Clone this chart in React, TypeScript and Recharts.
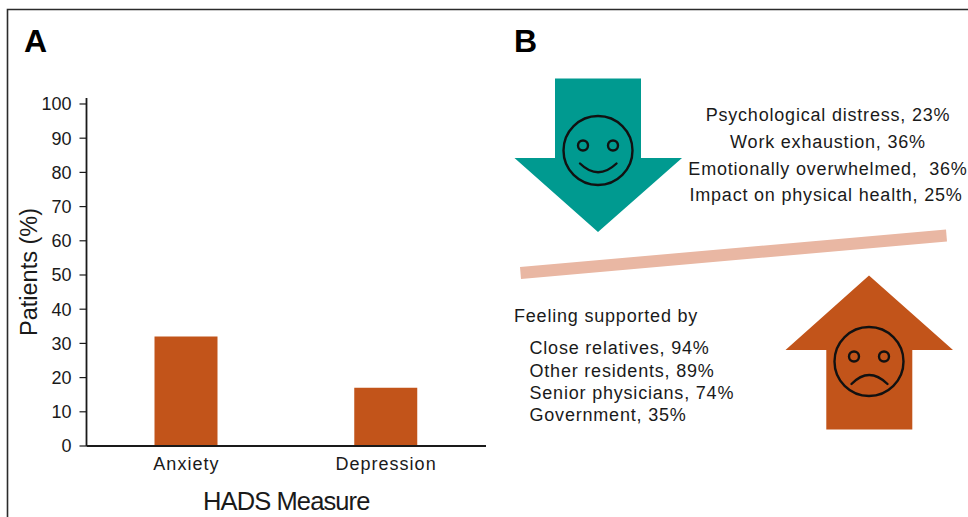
import {BarChart, Bar, XAxis, YAxis, Label} from "recharts";

const measures = ["Anxiety", "Depression"];
const patientPct = [32, 17];
const yTicks = [0, 10, 20, 30, 40, 50, 60, 70, 80, 90, 100];

const burdens = ["Psychological distress, 23%", "Work exhaustion, 36%", "Emotionally overwhelmed,  36%", "Impact on physical health, 25%"];
const supportTitle = "Feeling supported by";
const supports = ["Close relatives, 94%", "Other residents, 89%", "Senior physicians, 74%", "Government, 35%"];

const rows = measures.map((name, i) => ({name, value: patientPct[i]}));

const FONT = "'Liberation Sans', Arial, sans-serif";
const INK = "#1a1a1a";
const BAR = "#c2541a";
const TEAL = "#009a90";
const BEAM = "#e9b7a3";

const burdenPos = [
  {x: 828, y: 121},
  {x: 828, y: 148},
  {x: 828, y: 175},
  {x: 826, y: 201},
];
const supportY = [354, 377, 399, 421];

function Face({cx, cy, mouth}: {cx: number; cy: number; mouth: string}) {
  return (
    <g fill="none" stroke="#111" strokeWidth={2.4}>
      <circle cx={cx} cy={cy} r={34.5} />
      <circle cx={cx - 15} cy={cy - 5} r={5} />
      <circle cx={cx + 15} cy={cy - 5} r={5} />
      <path d={mouth} strokeLinecap="round" />
    </g>
  );
}

function PanelB() {
  const text = {fontFamily: FONT, fontSize: 18, fill: INK, letterSpacing: 0.8, style: {whiteSpace: "pre"}} as const;
  return (
    <svg width={968} height={517} style={{position: "absolute", left: 0, top: 0}}>
      <path d="M7.5 517V9.5H968" fill="none" stroke="#2b2b2b" strokeWidth={1.6} />
      <text x={24} y={52} fontFamily={FONT} fontSize={32} fontWeight={700} fill="#000">A</text>
      <text x={514} y={52} fontFamily={FONT} fontSize={32} fontWeight={700} fill="#000">B</text>

      <polygon points="555,78.5 641,78.5 641,158 682,158 598,232 514.5,158 555,158" fill={TEAL} />
      <Face cx={598} cy={150.5} mouth="M580 163.5Q598 181 616.5 163.5" />

      <polygon points="520,267 946,229.5 947,241.5 521,279" fill={BEAM} />

      <polygon points="869,275.5 953,350 912.3,350 912.3,429.5 826.3,429.5 826.3,350 785.5,350" fill={BAR} />
      <Face cx={869} cy={361.5} mouth="M851.5 384Q869 366 887.5 384" />

      {burdens.map((t, i) => (
        <text key={t} x={burdenPos[i].x} y={burdenPos[i].y} textAnchor="middle" {...text}>{t}</text>
      ))}
      <text x={514} y={322} {...text}>{supportTitle}</text>
      {supports.map((t, i) => (
        <text key={t} x={529.5} y={supportY[i]} {...text}>{t}</text>
      ))}
    </svg>
  );
}

export default function App() {
  return (
    <div style={{position: "absolute", left: 0, top: 0, width: 968, height: 517, overflow: "hidden", background: "#fff"}}>
      <PanelB />
      <div style={{position: "absolute", left: 0, top: 0}}>
        <BarChart width={968} height={517} data={rows} margin={{top: 98, left: 26.5, right: 482, bottom: 41}} barSize={63}>
          <XAxis
            dataKey="name"
            height={30}
            tickLine={false}
            tickMargin={5}
            axisLine={{stroke: INK, strokeWidth: 1.8}}
            tick={{fontFamily: FONT, fontSize: 18, fill: INK, letterSpacing: 1}}
          >
            <Label value="HADS Measure" position="insideBottom" offset={-34} style={{fontFamily: FONT, fontSize: 25.5, fill: INK, letterSpacing: -0.9}} />
          </XAxis>
          <YAxis
            width={60}
            domain={[0, 101.75]}
            ticks={yTicks}
            interval={0}
            tickSize={7}
            tickMargin={8}
            axisLine={{stroke: INK, strokeWidth: 1.8}}
            tickLine={{stroke: INK, strokeWidth: 1.2}}
            tick={{fontFamily: FONT, fontSize: 18, fill: INK}}
          >
            <Label value="Patients (%)" angle={-90} position="insideLeft" offset={2} style={{fontFamily: FONT, fontSize: 23.5, fill: INK, textAnchor: "middle"}} />
          </YAxis>
          <Bar dataKey="value" fill={BAR} isAnimationActive={false} />
        </BarChart>
      </div>
    </div>
  );
}
